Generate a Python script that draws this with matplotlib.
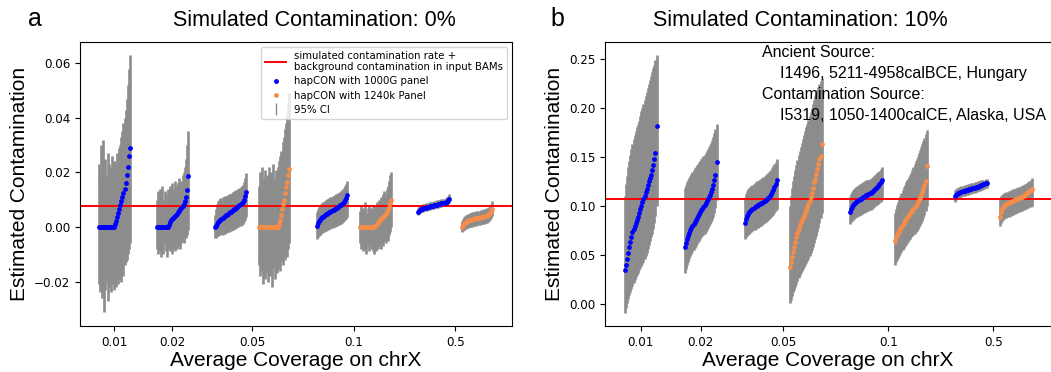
import matplotlib.pyplot as plt
import numpy as np
from matplotlib.lines import Line2D

# ---- panel a: simulated contamination 0% ----
est_a1 = [0.0, 0.0, 0.0, 0.0, 0.0, 0.0, 0.0, 0.0, 0.0, 0.0, 0.0, 0.0, 0.0, 0.0, 0.0,
          0.001, 0.002, 0.0035, 0.005, 0.0065, 0.008, 0.0095, 0.011, 0.0125, 0.014, 0.016, 0.019, 0.022, 0.026, 0.029]
lo_a1 = [-0.021, -0.024, -0.020, -0.026, -0.022, -0.031, -0.023, -0.020, -0.027, -0.022, -0.019, -0.024, -0.021, -0.020, -0.023,
         -0.020, -0.022, -0.018, -0.021, -0.019, -0.017, -0.020, -0.016, -0.018, -0.014, -0.013, -0.012, -0.010, -0.008, -0.006]
hi_a1 = [0.023, 0.018, 0.030, 0.022, 0.032, 0.021, 0.025, 0.019, 0.027, 0.023, 0.020, 0.022, 0.026, 0.019, 0.024,
         0.024, 0.022, 0.027, 0.026, 0.029, 0.030, 0.033, 0.035, 0.038, 0.040, 0.043, 0.047, 0.052, 0.058, 0.063]

est_a2 = [0.0, 0.0, 0.0, 0.0, 0.0, 0.0, 0.0, 0.0, 0.0, 0.0, 0.0,
          0.0008, 0.0018, 0.0025, 0.0029, 0.0033, 0.0037, 0.0041, 0.0045, 0.0049, 0.0054,
          0.0059, 0.0064, 0.0070, 0.0077, 0.0085, 0.0095, 0.0108, 0.0135, 0.0187]
lo_a2 = [-0.008, -0.010, -0.007, -0.009, -0.011, -0.008, -0.010, -0.006, -0.009, -0.011, -0.008,
         -0.007, -0.009, -0.006, -0.010, -0.008, -0.007, -0.009, -0.006, -0.008, -0.007,
         -0.005, -0.008, -0.006, -0.005, -0.006, -0.004, -0.004, -0.003, -0.001]
hi_a2 = [0.010, 0.013, 0.009, 0.014, 0.011, 0.015, 0.010, 0.013, 0.012, 0.009, 0.014,
         0.012, 0.015, 0.013, 0.016, 0.012, 0.014, 0.017, 0.013, 0.015, 0.016,
         0.018, 0.015, 0.017, 0.019, 0.020, 0.022, 0.025, 0.030, 0.035]

est_a3 = [0.0000, 0.0005, 0.0012, 0.0018, 0.0023, 0.0027, 0.0030, 0.0033, 0.0036, 0.0039,
          0.0042, 0.0045, 0.0048, 0.0050, 0.0053, 0.0056, 0.0058, 0.0061, 0.0064, 0.0067,
          0.0070, 0.0073, 0.0076, 0.0079, 0.0083, 0.0087, 0.0092, 0.0100, 0.0112, 0.0128]
lo_a3 = [-0.0040, -0.0042, -0.0035, -0.0033, -0.0030, -0.0031, -0.0027, -0.0028, -0.0024, -0.0025,
         -0.0022, -0.0020, -0.0019, -0.0017, -0.0015, -0.0014, -0.0012, -0.0010, -0.0008, -0.0006,
         -0.0004, -0.0002, 0.0000, 0.0002, 0.0005, 0.0008, 0.0012, 0.0018, 0.0026, 0.0035]
hi_a3 = [0.0045, 0.0065, 0.0085, 0.0095, 0.0100, 0.0105, 0.0102, 0.0108, 0.0110, 0.0112,
         0.0115, 0.0113, 0.0118, 0.0120, 0.0122, 0.0121, 0.0125, 0.0127, 0.0130, 0.0132,
         0.0134, 0.0136, 0.0138, 0.0141, 0.0145, 0.0150, 0.0155, 0.0165, 0.0180, 0.0197]

est_a4 = [0.0, 0.0, 0.0, 0.0, 0.0, 0.0, 0.0, 0.0, 0.0, 0.0, 0.0, 0.0, 0.0, 0.0, 0.0, 0.0, 0.0, 0.0, 0.0,
          0.0010, 0.0025, 0.0045, 0.0065, 0.0085, 0.0100, 0.0125, 0.0145, 0.0165, 0.0190, 0.0212]
lo_a4 = [-0.014, -0.018, -0.013, -0.016, -0.021, -0.015, -0.019, -0.013, -0.017, -0.020,
         -0.014, -0.018, -0.016, -0.022, -0.015, -0.019, -0.013, -0.017, -0.015,
         -0.014, -0.016, -0.013, -0.011, -0.014, -0.010, -0.012, -0.009, -0.011, -0.008, -0.006]
hi_a4 = [0.015, 0.020, 0.016, 0.022, 0.014, 0.018, 0.021, 0.016, 0.019, 0.015,
         0.022, 0.017, 0.020, 0.016, 0.023, 0.018, 0.021, 0.019, 0.022,
         0.024, 0.026, 0.028, 0.027, 0.031, 0.033, 0.036, 0.038, 0.041, 0.045, 0.049]

est_a5 = [0.0005, 0.0013, 0.0020, 0.0026, 0.0031, 0.0035, 0.0038, 0.0041, 0.0044, 0.0046,
          0.0049, 0.0051, 0.0054, 0.0056, 0.0058, 0.0061, 0.0063, 0.0066, 0.0068, 0.0071,
          0.0073, 0.0076, 0.0079, 0.0082, 0.0085, 0.0089, 0.0093, 0.0099, 0.0107, 0.0118]
lo_a5 = [-0.0045, -0.0038, -0.0032, -0.0028, -0.0025, -0.0022, -0.0020, -0.0018, -0.0016, -0.0014,
         -0.0012, -0.0010, -0.0009, -0.0007, -0.0005, -0.0004, -0.0002, 0.0000, 0.0002, 0.0004,
         0.0006, 0.0008, 0.0010, 0.0012, 0.0014, 0.0017, 0.0020, 0.0024, 0.0029, 0.0035]
hi_a5 = [0.0055, 0.0065, 0.0072, 0.0078, 0.0083, 0.0087, 0.0090, 0.0093, 0.0096, 0.0099,
         0.0101, 0.0104, 0.0106, 0.0108, 0.0110, 0.0112, 0.0115, 0.0117, 0.0119, 0.0121,
         0.0123, 0.0125, 0.0128, 0.0131, 0.0134, 0.0138, 0.0143, 0.0150, 0.0158, 0.0168]

est_a6 = [0.0, 0.0, 0.0, 0.0, 0.0, 0.0, 0.0, 0.0, 0.0, 0.0, 0.0, 0.0, 0.0, 0.0,
          0.0004, 0.0008, 0.0012, 0.0016, 0.0020, 0.0024, 0.0028, 0.0032, 0.0036, 0.0041,
          0.0047, 0.0054, 0.0063, 0.0074, 0.0086, 0.0098]
lo_a6 = [-0.006, -0.008, -0.007, -0.009, -0.006, -0.008, -0.010, -0.007, -0.009, -0.006,
         -0.008, -0.007, -0.009, -0.010, -0.008, -0.009, -0.007, -0.008, -0.006, -0.007,
         -0.008, -0.006, -0.007, -0.005, -0.006, -0.004, -0.005, -0.003, -0.002, 0.000]
hi_a6 = [0.006, 0.008, 0.005, 0.007, 0.006, 0.009, 0.005, 0.007, 0.008, 0.006,
         0.007, 0.005, 0.008, 0.006, 0.008, 0.007, 0.009, 0.008, 0.010, 0.009,
         0.011, 0.010, 0.012, 0.013, 0.012, 0.014, 0.015, 0.017, 0.019, 0.020]

est_a7 = [0.0055, 0.0060, 0.0063, 0.0065, 0.0067, 0.0068, 0.0070, 0.0071, 0.0072, 0.0073,
          0.0074, 0.0075, 0.0076, 0.0077, 0.0078, 0.0079, 0.0080, 0.0081, 0.0082, 0.0083,
          0.0084, 0.0085, 0.0086, 0.0087, 0.0088, 0.0089, 0.0091, 0.0093, 0.0097, 0.0102]
lo_a7 = [0.0043, 0.0048, 0.0051, 0.0053, 0.0055, 0.0056, 0.0058, 0.0059, 0.0060, 0.0061,
         0.0062, 0.0063, 0.0064, 0.0065, 0.0066, 0.0067, 0.0068, 0.0069, 0.0070, 0.0071,
         0.0072, 0.0073, 0.0074, 0.0075, 0.0076, 0.0077, 0.0079, 0.0081, 0.0084, 0.0088]
hi_a7 = [0.0070, 0.0075, 0.0078, 0.0080, 0.0082, 0.0083, 0.0085, 0.0086, 0.0087, 0.0088,
         0.0089, 0.0090, 0.0091, 0.0092, 0.0093, 0.0094, 0.0095, 0.0096, 0.0097, 0.0098,
         0.0099, 0.0100, 0.0101, 0.0102, 0.0103, 0.0104, 0.0106, 0.0109, 0.0114, 0.0120]

est_a8 = [0.0000, 0.0006, 0.0011, 0.0015, 0.0018, 0.0020, 0.0022, 0.0024, 0.0025, 0.0027,
          0.0028, 0.0029, 0.0030, 0.0031, 0.0032, 0.0033, 0.0034, 0.0035, 0.0036, 0.0037,
          0.0038, 0.0039, 0.0040, 0.0041, 0.0043, 0.0045, 0.0048, 0.0052, 0.0058, 0.0066]
lo_a8 = [-0.0018, -0.0014, -0.0011, -0.0008, -0.0006, -0.0004, -0.0003, -0.0002, -0.0001, 0.0000,
         0.0001, 0.0002, 0.0003, 0.0004, 0.0005, 0.0006, 0.0007, 0.0008, 0.0009, 0.0010,
         0.0011, 0.0012, 0.0013, 0.0014, 0.0016, 0.0018, 0.0021, 0.0025, 0.0031, 0.0040]
hi_a8 = [0.0022, 0.0030, 0.0036, 0.0040, 0.0043, 0.0045, 0.0047, 0.0049, 0.0050, 0.0052,
         0.0053, 0.0054, 0.0055, 0.0056, 0.0057, 0.0058, 0.0059, 0.0060, 0.0061, 0.0062,
         0.0063, 0.0064, 0.0065, 0.0066, 0.0068, 0.0070, 0.0073, 0.0078, 0.0085, 0.0095]

# ---- panel b: simulated contamination 10% ----
est_b1 = [0.035, 0.040, 0.046, 0.052, 0.058, 0.063, 0.068, 0.074, 0.077, 0.080,
          0.083, 0.086, 0.089, 0.093, 0.097, 0.100, 0.104, 0.107, 0.110, 0.114,
          0.117, 0.121, 0.125, 0.129, 0.132, 0.137, 0.142, 0.148, 0.154, 0.181]
lo_b1 = [-0.009, -0.004, 0.001, 0.005, 0.009, 0.012, 0.016, 0.019, 0.022, 0.025,
         0.028, 0.030, 0.032, 0.035, 0.037, 0.039, 0.041, 0.043, 0.046, 0.049,
         0.052, 0.056, 0.060, 0.064, 0.068, 0.072, 0.077, 0.083, 0.090, 0.100]
hi_b1 = [0.110, 0.122, 0.131, 0.140, 0.146, 0.152, 0.158, 0.163, 0.168, 0.172,
         0.176, 0.180, 0.183, 0.187, 0.192, 0.197, 0.200, 0.204, 0.208, 0.212,
         0.216, 0.220, 0.224, 0.228, 0.232, 0.236, 0.240, 0.244, 0.249, 0.254]

est_b2 = [0.058, 0.062, 0.066, 0.070, 0.073, 0.076, 0.078, 0.080, 0.082, 0.084,
          0.086, 0.088, 0.090, 0.092, 0.094, 0.096, 0.097, 0.099, 0.101, 0.103,
          0.105, 0.107, 0.109, 0.111, 0.114, 0.117, 0.121, 0.127, 0.132, 0.145]
lo_b2 = [0.032, 0.036, 0.040, 0.043, 0.046, 0.049, 0.051, 0.053, 0.055, 0.057,
         0.059, 0.061, 0.063, 0.064, 0.066, 0.068, 0.069, 0.071, 0.072, 0.074,
         0.076, 0.078, 0.080, 0.082, 0.084, 0.086, 0.089, 0.093, 0.098, 0.106]
hi_b2 = [0.118, 0.121, 0.124, 0.127, 0.129, 0.131, 0.133, 0.135, 0.137, 0.139,
         0.140, 0.142, 0.143, 0.145, 0.146, 0.148, 0.149, 0.151, 0.152, 0.154,
         0.156, 0.158, 0.160, 0.162, 0.164, 0.167, 0.170, 0.174, 0.178, 0.183]

est_b3 = [0.083, 0.087, 0.090, 0.092, 0.094, 0.095, 0.096, 0.097, 0.098, 0.099,
          0.100, 0.1005, 0.101, 0.102, 0.1025, 0.103, 0.1035, 0.104, 0.105, 0.106,
          0.107, 0.108, 0.109, 0.110, 0.112, 0.114, 0.116, 0.119, 0.122, 0.126]
lo_b3 = [0.066, 0.068, 0.070, 0.071, 0.072, 0.073, 0.074, 0.075, 0.076, 0.076,
         0.077, 0.078, 0.078, 0.079, 0.080, 0.080, 0.081, 0.082, 0.083, 0.084,
         0.085, 0.086, 0.087, 0.088, 0.089, 0.090, 0.091, 0.093, 0.095, 0.097]
hi_b3 = [0.108, 0.112, 0.115, 0.117, 0.118, 0.119, 0.120, 0.121, 0.122, 0.123,
         0.124, 0.125, 0.125, 0.126, 0.127, 0.128, 0.129, 0.130, 0.131, 0.132,
         0.133, 0.134, 0.135, 0.136, 0.137, 0.139, 0.141, 0.143, 0.145, 0.148]

est_b4 = [0.038, 0.043, 0.048, 0.053, 0.058, 0.063, 0.068, 0.073, 0.077, 0.081,
          0.084, 0.086, 0.088, 0.090, 0.093, 0.096, 0.099, 0.102, 0.105, 0.109,
          0.113, 0.118, 0.124, 0.128, 0.133, 0.138, 0.143, 0.148, 0.151, 0.163]
lo_b4 = [0.001, 0.004, 0.008, 0.012, 0.015, 0.018, 0.021, 0.024, 0.027, 0.030,
         0.032, 0.034, 0.036, 0.038, 0.040, 0.042, 0.044, 0.046, 0.049, 0.052,
         0.055, 0.058, 0.062, 0.066, 0.070, 0.074, 0.078, 0.083, 0.088, 0.093]
hi_b4 = [0.100, 0.110, 0.118, 0.125, 0.131, 0.137, 0.142, 0.147, 0.152, 0.156,
         0.160, 0.164, 0.168, 0.172, 0.176, 0.180, 0.184, 0.188, 0.192, 0.196,
         0.200, 0.204, 0.208, 0.212, 0.215, 0.218, 0.221, 0.224, 0.227, 0.230]

est_b5 = [0.094, 0.097, 0.099, 0.101, 0.102, 0.103, 0.104, 0.105, 0.106, 0.107,
          0.1075, 0.108, 0.109, 0.1095, 0.110, 0.111, 0.1115, 0.112, 0.113, 0.1135,
          0.114, 0.115, 0.116, 0.117, 0.118, 0.119, 0.120, 0.122, 0.124, 0.126]
lo_b5 = [0.082, 0.084, 0.085, 0.086, 0.087, 0.088, 0.089, 0.089, 0.090, 0.091,
         0.091, 0.092, 0.093, 0.093, 0.094, 0.094, 0.095, 0.095, 0.096, 0.096,
         0.097, 0.098, 0.099, 0.100, 0.101, 0.101, 0.102, 0.103, 0.104, 0.106]
hi_b5 = [0.109, 0.112, 0.114, 0.116, 0.117, 0.118, 0.119, 0.120, 0.121, 0.122,
         0.122, 0.123, 0.124, 0.124, 0.125, 0.126, 0.126, 0.127, 0.128, 0.128,
         0.129, 0.130, 0.131, 0.132, 0.133, 0.134, 0.135, 0.136, 0.138, 0.140]

est_b6 = [0.064, 0.068, 0.071, 0.073, 0.075, 0.077, 0.079, 0.081, 0.083, 0.085,
          0.087, 0.088, 0.090, 0.091, 0.093, 0.094, 0.096, 0.097, 0.099, 0.100,
          0.102, 0.104, 0.106, 0.108, 0.111, 0.114, 0.117, 0.121, 0.125, 0.141]
lo_b6 = [0.040, 0.043, 0.045, 0.047, 0.049, 0.051, 0.053, 0.055, 0.057, 0.059,
         0.060, 0.062, 0.063, 0.065, 0.066, 0.068, 0.069, 0.071, 0.072, 0.074,
         0.075, 0.077, 0.079, 0.081, 0.083, 0.085, 0.088, 0.091, 0.095, 0.100]
hi_b6 = [0.093, 0.097, 0.101, 0.104, 0.107, 0.110, 0.113, 0.116, 0.119, 0.121,
         0.124, 0.126, 0.128, 0.130, 0.132, 0.134, 0.137, 0.140, 0.143, 0.146,
         0.148, 0.151, 0.154, 0.157, 0.160, 0.163, 0.166, 0.169, 0.173, 0.177]

est_b7 = [0.110, 0.1115, 0.1125, 0.113, 0.1135, 0.114, 0.1145, 0.115, 0.1153, 0.1156,
          0.116, 0.1163, 0.1166, 0.117, 0.1173, 0.1176, 0.118, 0.1183, 0.1186, 0.119,
          0.1194, 0.1198, 0.1202, 0.1206, 0.121, 0.1215, 0.122, 0.1225, 0.123, 0.1235]
lo_b7 = [0.104, 0.106, 0.107, 0.108, 0.108, 0.109, 0.109, 0.110, 0.110, 0.110,
         0.111, 0.111, 0.111, 0.112, 0.112, 0.112, 0.113, 0.113, 0.113, 0.114,
         0.114, 0.115, 0.115, 0.115, 0.116, 0.116, 0.117, 0.117, 0.118, 0.118]
hi_b7 = [0.116, 0.117, 0.118, 0.118, 0.119, 0.119, 0.120, 0.120, 0.120, 0.121,
         0.121, 0.121, 0.122, 0.122, 0.122, 0.123, 0.123, 0.123, 0.124, 0.124,
         0.124, 0.125, 0.125, 0.125, 0.126, 0.126, 0.127, 0.127, 0.128, 0.128]

est_b8 = [0.089, 0.094, 0.097, 0.099, 0.100, 0.101, 0.102, 0.103, 0.1035, 0.104,
          0.1045, 0.105, 0.1055, 0.106, 0.1065, 0.107, 0.1075, 0.108, 0.1085, 0.109,
          0.1095, 0.110, 0.1105, 0.111, 0.112, 0.113, 0.114, 0.115, 0.116, 0.117]
lo_b8 = [0.080, 0.083, 0.085, 0.086, 0.087, 0.088, 0.088, 0.089, 0.089, 0.090,
         0.090, 0.091, 0.091, 0.092, 0.092, 0.093, 0.093, 0.094, 0.094, 0.095,
         0.095, 0.096, 0.096, 0.097, 0.097, 0.098, 0.098, 0.099, 0.099, 0.100]
hi_b8 = [0.108, 0.110, 0.111, 0.112, 0.113, 0.113, 0.114, 0.114, 0.115, 0.115,
         0.116, 0.116, 0.117, 0.117, 0.117, 0.118, 0.118, 0.119, 0.119, 0.120,
         0.120, 0.121, 0.121, 0.122, 0.122, 0.123, 0.124, 0.125, 0.127, 0.129]

true_a = 0.0076   # simulated rate + background contamination
true_b = 0.1074
panel_of_group = ['1000G', '1000G', '1000G', '1240k', '1000G', '1240k', '1000G', '1240k']
tick_labels = ['0.01', '0.02', '0.05', '0.1', '0.5']

# layout (not data): group centres on a categorical axis
centres = [0, 1, 2, 2.75, 3.75, 4.5, 5.5, 6.25]
tick_pos = [0, 1, 2.375, 4.125, 5.875]
half_w = 0.265

colors = {'1000G': 'blue', '1240k': '#f58d4a'}
gray = '#8c8c8c'
arial = ['Liberation Sans', 'DejaVu Sans']


def draw_panel(ax, groups, truth):
    for c, panel, (est, lo, hi) in zip(centres, panel_of_group, groups):
        x = np.linspace(c - half_w, c + half_w, len(est))
        ax.vlines(x, lo, hi, color=gray, linewidth=1.9, zorder=1)
    ax.axhline(truth, color='red', linewidth=1.4, zorder=2)
    for c, panel, (est, lo, hi) in zip(centres, panel_of_group, groups):
        x = np.linspace(c - half_w, c + half_w, len(est))
        ax.scatter(x, est, s=12, color=colors[panel], linewidths=0, zorder=3)
    ax.set_xlim(-0.595, 6.853)
    ax.set_xticks(tick_pos)
    ax.set_xticklabels(tick_labels)
    ax.tick_params(labelsize=8.6)


fig = plt.figure(figsize=(10.51, 3.72), dpi=100)
ax_a = fig.add_axes([0.0761, 0.1237, 0.4110, 0.7643])
ax_b = fig.add_axes([0.5756, 0.1237, 0.4253, 0.7643])

groups_a = [(est_a1, lo_a1, hi_a1), (est_a2, lo_a2, hi_a2), (est_a3, lo_a3, hi_a3), (est_a4, lo_a4, hi_a4),
            (est_a5, lo_a5, hi_a5), (est_a6, lo_a6, hi_a6), (est_a7, lo_a7, hi_a7), (est_a8, lo_a8, hi_a8)]
groups_b = [(est_b1, lo_b1, hi_b1), (est_b2, lo_b2, hi_b2), (est_b3, lo_b3, hi_b3), (est_b4, lo_b4, hi_b4),
            (est_b5, lo_b5, hi_b5), (est_b6, lo_b6, hi_b6), (est_b7, lo_b7, hi_b7), (est_b8, lo_b8, hi_b8)]

draw_panel(ax_a, groups_a, true_a)
ax_a.set_ylim(-0.0363, 0.0679)
ax_a.set_yticks([-0.02, 0.0, 0.02, 0.04, 0.06])

draw_panel(ax_b, groups_b, true_b)
ax_b.set_ylim(-0.0221, 0.2673)
ax_b.set_yticks([0.0, 0.05, 0.10, 0.15, 0.20, 0.25])

handles = [Line2D([], [], color='red', linewidth=1.4),
           Line2D([], [], color='blue', marker='o', markersize=2.5, linestyle='None'),
           Line2D([], [], color='#f58d4a', marker='o', markersize=2.5, linestyle='None'),
           Line2D([], [], color=gray, marker='|', markersize=9, linestyle='None')]
labels = ['simulated contamination rate +\nbackground contamination in input BAMs',
          'hapCON with 1000G panel', 'hapCON with 1240k Panel', '95% CI']
ax_a.legend(handles, labels, loc='upper right', fontsize=7.3, labelspacing=0.4)

# titles, panel letters, axis labels
fig.text(314 / 1051, 0.930, 'Simulated Contamination: 0%', fontsize=15.5, family=arial, ha='center', va='baseline')
fig.text(800 / 1051, 0.930, 'Simulated Contamination: 10%', fontsize=15.5, family=arial, ha='center', va='baseline')
fig.text(28 / 1051, 0.930, 'a', fontsize=18, family=arial, ha='left', va='baseline')
fig.text(550 / 1051, 0.930, 'b', fontsize=18, family=arial, ha='left', va='baseline')

for xc in [296, 828]:
    fig.text(xc / 1051, 6 / 372, 'Average Coverage on chrX', fontsize=15, family=arial, ha='center', va='baseline')
fig.text(20 / 1051, 1 - 184 / 372, 'Estimated Contamination', fontsize=15, family=arial,
         rotation=90, ha='center', va='center')
fig.text(555 / 1051, 1 - 184 / 372, 'Estimated Contamination', fontsize=15, family=arial,
         rotation=90, ha='center', va='center')

# sample description in panel b
fig.text(762 / 1051, 1 - 57.3 / 372, 'Ancient Source:', fontsize=11.5, family=arial, va='baseline')
fig.text(780 / 1051, 1 - 78.3 / 372, 'I1496, 5211-4958calBCE, Hungary', fontsize=11.5, family=arial, va='baseline')
fig.text(762 / 1051, 1 - 99 / 372, 'Contamination Source:', fontsize=11.5, family=arial, va='baseline')
fig.text(780 / 1051, 1 - 119.7 / 372, 'I5319, 1050-1400calCE, Alaska, USA', fontsize=11.5, family=arial, va='baseline')

fig.savefig('out.png', dpi=100)
